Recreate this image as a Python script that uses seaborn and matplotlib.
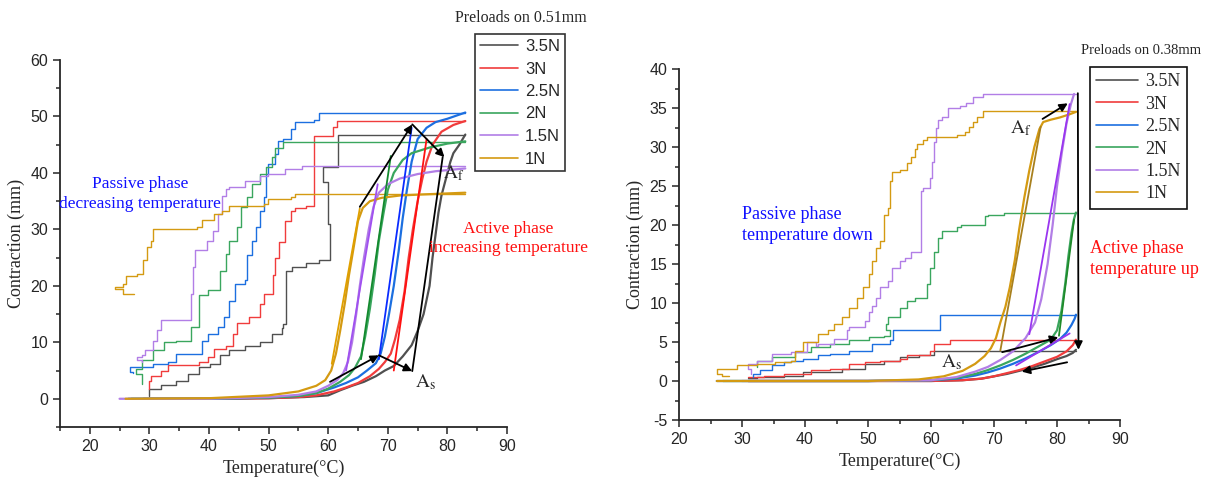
import matplotlib
matplotlib.use("Agg")
import matplotlib.pyplot as plt
import pandas as pd
import seaborn as sns
from matplotlib.lines import Line2D
from matplotlib.ticker import MultipleLocator

# ---- data: preloads on 0.51 mm wire (left) ----
labels = ["3.5N", "3N", "2.5N", "2N", "1.5N", "1N"]
colors = ["#505050", "#f03c3c", "#1c6fe0", "#3aa65e", "#b27ee6", "#d49a12"]

heat_T_051 = {
    "3.5N": [30, 40, 50, 56, 60, 62, 64, 66, 68, 69.5, 71, 72.5, 74, 75, 76, 77, 77.5, 78, 78.5, 79, 79.5, 80, 80.5, 81, 82, 83],
    "3N": [29, 40, 50, 55, 58, 61, 63, 65, 67, 68.5, 69.5, 70.5, 71.2, 72, 72.8, 73.5, 74.2, 75, 75.8, 76.5, 77.5, 79, 81, 83],
    "2.5N": [26.5, 40, 50, 55, 58, 61, 63, 65, 66.5, 68, 68.8, 69.5, 70.2, 71, 71.8, 72.5, 73.2, 74, 75, 76.5, 78, 80, 83],
    "2N": [27, 40, 50, 55, 58, 60, 62, 63.5, 64.5, 65.5, 66.2, 67, 67.8, 68.5, 69.3, 70, 71, 72.5, 74, 77, 80, 83],
    "1.5N": [25, 40, 50, 55, 58, 60, 61.5, 62.5, 63.3, 64, 64.7, 65.3, 66, 66.8, 67.6, 68.5, 70, 72, 75, 78, 83],
    "1N": [26, 40, 50, 55, 58, 59.5, 60.5, 61.3, 62, 62.8, 63.5, 64.3, 65, 65.8, 67, 69, 72, 76, 83],
}
heat_C_051 = {
    "3.5N": [0, 0, 0.1, 0.3, 0.6, 1.5, 2.3, 3.0, 4.0, 5.0, 5.8, 7.5, 9.5, 12, 15, 20, 25, 29, 33, 36, 38, 40, 42, 43.5, 45, 46.8],
    "3N": [0, 0, 0.1, 0.3, 0.6, 1.3, 2.0, 2.8, 4.0, 5.3, 6.5, 8.0, 10.5, 14, 19, 25, 30, 35, 39, 42, 45, 47.3, 48.5, 49.2],
    "2.5N": [0, 0, 0.2, 0.5, 1.0, 2.0, 2.8, 3.8, 5.0, 6.3, 8, 11, 15, 20, 26, 32, 37, 42, 46, 48, 49, 49.6, 50.7],
    "2N": [0, 0, 0.2, 0.5, 1.0, 1.8, 3.0, 4.2, 5.5, 7.5, 11, 16, 22, 28, 33, 37, 40, 42.3, 43.5, 44.5, 45.2, 45.6],
    "1.5N": [0, 0, 0.3, 0.7, 1.3, 2.3, 3.3, 4.5, 6.5, 10, 15, 20, 25, 30, 34, 36.5, 38, 39, 39.8, 40.3, 40.8],
    "1N": [0, 0.1, 0.6, 1.3, 2.3, 3.3, 5, 8, 12, 17, 22, 27, 31.5, 33.8, 35, 35.6, 36, 36.2, 36.5],
}
cool_T_051 = {
    "3.5N": [83, 61.7, 59.1, 60.0, 60.3, 58.5, 56.3, 54, 53, 52.4, 52.3, 50.5, 48.6, 46, 43.4, 41.8, 40.2, 38.3, 36.4, 34.5, 31.9, 30.0, 30.0],
    "3N": [83, 61.4, 60.8, 57.6, 56.3, 54.4, 53.7, 52.8, 51.8, 51.1, 50.8, 49.2, 48.6, 46.7, 44.7, 44.1, 42.8, 40.9, 39.9, 38.3, 33.2, 31.9, 30.3, 30.0],
    "2.5N": [83, 58.5, 57.6, 54.4, 53.7, 52.4, 51.5, 51.1, 49.9, 49.5, 49.2, 48.6, 47.9, 47.3, 46.3, 46.0, 44.4, 43.4, 42.5, 41.5, 39.9, 38.9, 38.0, 34.5, 33.2, 30.6, 26.7, 27.2],
    "2N": [83, 52.5, 51.1, 50.5, 49.5, 48.6, 47.3, 46.3, 45.4, 44.7, 43.4, 42.8, 41.8, 39.9, 38.3, 37.0, 34.5, 32.5, 30.6, 28.7, 27.7, 28.8],
    "1.5N": [83, 55.6, 52.8, 49.9, 48.6, 46.0, 43.4, 42.8, 42.2, 41.5, 40.6, 39.6, 37.7, 37.3, 37.0, 31.9, 31.2, 30.6, 29.3, 28.7, 28.0, 28.7],
    "1N": [83, 54.4, 53.7, 49.9, 49.2, 43.4, 42.2, 40.9, 38.9, 38.0, 37.7, 30.6, 30.3, 29.6, 29.0, 28.0, 26.1, 25.5, 24.2, 25.5, 27.4],
}
cool_C_051 = {
    "3.5N": [46.8, 41, 38.4, 31, 24.5, 24, 23.3, 22.7, 13.3, 12.5, 11.5, 10, 9.4, 8.6, 7.7, 6.2, 5.6, 4.4, 3.2, 2.4, 1.8, 0.9, 0.5],
    "3N": [49.2, 48.2, 46.6, 34.2, 33.8, 33.3, 31.5, 27.7, 25, 22, 18.6, 16.8, 14.5, 13.5, 11.5, 9.4, 8.8, 7.4, 6.5, 5.9, 5.0, 4.1, 3.2, 1.8],
    "2.5N": [50.7, 49.3, 49.0, 47.8, 46.0, 45.7, 43.4, 41.6, 39.8, 35.7, 33.3, 30.4, 28.0, 25.4, 21.0, 20.4, 17.4, 14.5, 12.7, 11.5, 10.3, 8.0, 8.0, 6.5, 6.2, 5.6, 4.7, 4.5],
    "2N": [45.5, 44.5, 42.8, 41, 39.8, 38, 35.7, 33.9, 30.4, 28, 25.7, 22.7, 19.2, 18.3, 12.7, 10.3, 10.0, 8.6, 6.8, 5.3, 4.4, 2.7],
    "1.5N": [41.2, 40.7, 39.8, 39.5, 38.6, 37.5, 37.2, 36.0, 32.7, 29.8, 28.0, 26.3, 23.3, 18.6, 13.9, 12.1, 10.3, 8.6, 7.7, 7.4, 6.8, 6.5],
    "1N": [36.3, 35.7, 35.4, 34.5, 34.2, 33.3, 32.7, 31.6, 30.4, 30.1, 30.1, 28, 26.8, 24.5, 22.1, 21.8, 20.4, 19.8, 19.5, 18.6, 18.6],
}
# straight (linear) segments drawn over the heating branches
fit_051 = [
    ("3N", [71.0, 76.5], [5.0, 46.0], "#ff1010"),
    ("2.5N", [68.5, 74.0], [7.0, 48.0], "#0a2cff"),
    ("2N", [65.5, 70.5], [7.0, 43.0], "#138a2e"),
    ("1.5N", [63.0, 68.3], [5.0, 38.0], "#a050f0"),
    ("1N", [60.6, 65.3], [6.2, 33.7], "#e0a000"),
]

# ---- data: preloads on 0.38 mm wire (right) ----
heat_T_038 = {
    "3.5N": [31, 40, 50, 60, 65, 68, 70, 72, 74, 76, 78, 80, 81.5, 82.5, 83],
    "3N": [31, 40, 50, 60, 65, 68, 70, 72, 74, 76, 78, 80, 81.5, 82.5, 83],
    "2.5N": [26, 40, 50, 60, 64, 67, 69, 71, 73, 75, 77, 79, 80.5, 81.5, 82.3, 82.8, 83],
    "2N": [27, 40, 50, 60, 64, 67, 69, 71, 73, 75, 77, 79, 80, 80.7, 81.3, 81.8, 82.3, 82.7, 83],
    "1.5N": [30, 40, 50, 60, 64, 67, 69, 71, 73, 75, 76.5, 77.5, 78.5, 79.3, 80, 80.8, 81.5, 82.2, 82.7],
    "1N": [26, 40, 50, 58, 62, 65, 67, 68.5, 69.5, 70.3, 71, 71.8, 72.5, 73.3, 74, 74.8, 75.6, 76.4, 77.2, 77.8, 79, 80.5, 82, 83],
}
heat_C_038 = {
    "3.5N": [0, 0, 0, 0, 0.1, 0.3, 0.6, 0.9, 1.3, 1.7, 2.2, 2.8, 3.2, 3.6, 4.0],
    "3N": [0, 0, 0, 0, 0.1, 0.3, 0.6, 1.0, 1.4, 1.9, 2.5, 3.1, 3.8, 4.6, 5.3],
    "2.5N": [0, 0, 0, 0.1, 0.3, 0.7, 1.1, 1.6, 2.2, 2.9, 3.7, 4.6, 5.4, 6.2, 7.2, 8.0, 8.5],
    "2N": [0, 0, 0, 0.1, 0.4, 0.9, 1.4, 2.0, 2.7, 3.5, 4.4, 5.3, 6.5, 9, 12.5, 16, 19, 20.8, 21.6],
    "1.5N": [0, 0, 0, 0.1, 0.5, 1.2, 1.8, 2.7, 3.8, 5.5, 7.5, 10.5, 15, 20, 25, 29.5, 33, 35.5, 36.8],
    "1N": [0, 0, 0, 0.2, 0.6, 1.3, 2.2, 3.2, 4.2, 5.5, 7.5, 9.5, 12, 15.5, 19.5, 23.5, 27, 30, 32.3, 33.2, 33.5, 33.8, 34.2, 34.5],
}
cool_T_038 = {
    "3.5N": [83, 60.5, 58.1, 55, 52.5, 49.5, 45.8, 39.6, 36.6, 32.3, 31],
    "3N": [83, 63, 60.5, 59.9, 56.2, 55, 51.9, 49.5, 47, 43.9, 40.9, 36.6, 33.5, 31],
    "2.5N": [83, 61.4, 54.0, 53.5, 50.7, 47, 43.9, 42.1, 39.6, 37.8, 36.6, 34.7, 32.9, 31.7, 31.7],
    "2N": [83, 71.6, 69.1, 68.5, 64.8, 64.2, 61.7, 61.1, 60.5, 59.9, 59.3, 57.4, 56.2, 55, 53.1, 52.8, 53.5, 52.5, 50.1, 47, 43.9, 40.9, 38.4, 34.7, 32.3, 32.3],
    "1.5N": [83, 68.2, 66.7, 65.5, 64.6, 62.7, 61.7, 61.1, 60.8, 60.5, 60.2, 59.9, 58.7, 58.4, 56.8, 55.9, 55, 53.8, 53.1, 51.9,
             51.3, 50.7, 50.1, 49.5, 47, 46.7, 44.6, 42.1, 41.8, 40.3, 37.8, 34.7, 32.3, 31, 31.4],
    "1N": [83, 68.2, 67.3, 66.7, 66.0, 65.4, 64.2, 59.3, 58.7, 57.8, 57.4, 56.8, 56.2, 55.0, 53.8, 53.5, 53.1, 52.5, 51.9, 51.3,
           50.7, 50.1, 49.2, 48.2, 47.0, 45.8, 44.6, 43.6, 42.1, 41.5, 39.6, 38.4, 37.8, 35.3, 32.3, 29.2, 26.1, 26.8, 28.0],
}
cool_C_038 = {
    "3.5N": [3.9, 3.3, 3.1, 2.6, 2.2, 1.6, 1.1, 0.7, 0.5, 0.4, 0.4],
    "3N": [5.2, 4.8, 3.9, 3.3, 2.8, 2.6, 2.4, 2.2, 1.6, 1.4, 0.9, 0.7, 0.5, 0.5],
    "2.5N": [8.5, 6.5, 5.2, 4.8, 3.9, 3.5, 3.3, 2.8, 2.6, 2.4, 2.0, 1.4, 0.9, 0.5, 0.5],
    "2N": [21.6, 21.3, 21.1, 20.0, 19.8, 19.2, 18.3, 16.6, 14.5, 12.4, 10.7, 10.3, 9.4, 8.2, 7.3, 6.5, 5.8, 5.6, 5.2, 4.8, 4.3, 3.7, 3.1, 2.6, 1.8, 1.8],
    "1.5N": [36.8, 36.4, 35.6, 35.2, 35.0, 33.8, 33.4, 32.4, 30.7, 28.1, 26, 24.7, 24.3, 16.6, 15.8, 15.4, 14.5, 12.8, 12.0, 10.7,
             9.6, 8.8, 7.7, 6.9, 6.5, 5.4, 4.8, 4.5, 5.0, 3.7, 3.5, 2.6, 2.2, 1.6, 0.9],
    "1N": [34.6, 33.8, 33.2, 32.6, 31.9, 31.5, 31.3, 30.9, 30.4, 29.8, 28.7, 27.9, 27.0, 26.8, 25.6, 22.2, 21.3, 17.9, 17.1, 15.4,
           13.7, 12.0, 10.7, 9.4, 8.2, 7.3, 6.5, 6.0, 5.0, 5.0, 3.9, 2.6, 2.4, 2.2, 2.0, 1.6, 0.9, 0.7, 0.7],
}
fit_038 = [
    ("2N", [80.3, 82.7], [5.8, 20.7], "#1f8a2a"),
    ("1.5N", [75.6, 82.0], [6.0, 35.5], "#9a35f0"),
    ("1.5N", [73.5, 82.0], [2.0, 6.1], "#9a35f0"),
    ("1N", [71.0, 77.4], [3.9, 32.6], "#a8801e"),
]

# black guide arrows (start, end, with head)
arrows_051 = [((60.3, 3.0), (68.5, 7.7), True), ((68.5, 7.7), (74.1, 4.9), True),
              ((74.1, 4.9), (79.2, 42.8), False), ((65.3, 34.0), (74.1, 48.6), True),
              ((74.1, 48.6), (79.5, 42.8), True)]
arrows_038 = [((77.7, 33.6), (81.7, 35.6), True), ((83.3, 36.9), (83.4, 4.0), True),
              ((71.3, 3.7), (80.2, 5.6), True), ((81.6, 2.4), (74.4, 1.2), True)]

SERIF = "Liberation Serif"

sns.set_style("ticks")
plt.rcParams["font.family"] = ["Liberation Sans", "DejaVu Sans"]
plt.rcParams["mathtext.fontset"] = "stix"
plt.rcParams["axes.unicode_minus"] = False

fig = plt.figure(figsize=(12.11, 4.86), dpi=100)
ax1 = fig.add_axes([0.0495, 0.1214, 0.3692, 0.7551])
ax2 = fig.add_axes([0.5607, 0.1358, 0.3642, 0.7222])


def draw_panel(ax, heat_T, heat_C, cool_T, cool_C, fits):
    for lab, col in zip(labels, colors):
        cool = pd.DataFrame({"T": cool_T[lab], "C": cool_C[lab]})
        sns.lineplot(data=cool, x="T", y="C", ax=ax, color=col, lw=1.0,
                     sort=False, estimator=None, drawstyle="steps-post", legend=False)
    for lab, col in zip(labels, colors):
        heat = pd.DataFrame({"T": heat_T[lab], "C": heat_C[lab]})
        sns.lineplot(data=heat, x="T", y="C", ax=ax, color=col, lw=1.6,
                     sort=False, estimator=None, legend=False)
    for lab, xs, ys, col in fits:
        sns.lineplot(x=xs, y=ys, ax=ax, color=col, lw=1.3, sort=False,
                     estimator=None, legend=False)


def draw_arrows(ax, arrows):
    for (p0, p1, head) in arrows:
        ax.annotate("", xy=p1, xytext=p0,
                    arrowprops=dict(arrowstyle="-|>" if head else "-", color="black",
                                    lw=1.3, mutation_scale=12, shrinkA=0, shrinkB=0))


draw_panel(ax1, heat_T_051, heat_C_051, cool_T_051, cool_C_051, fit_051)
draw_panel(ax2, heat_T_038, heat_C_038, cool_T_038, cool_C_038, fit_038)
draw_arrows(ax1, arrows_051)
draw_arrows(ax2, arrows_038)

for ax, ylim, ymaj in [(ax1, (-5, 60), 10), (ax2, (-5, 40), 5)]:
    ax.set_ylim(*ylim)
    ax.yaxis.set_major_locator(MultipleLocator(ymaj))
    ax.yaxis.set_minor_locator(MultipleLocator(ymaj / 2))
    ax.xaxis.set_major_locator(MultipleLocator(10))
    ax.xaxis.set_minor_locator(MultipleLocator(5))
    ax.tick_params(which="major", direction="out", length=5, width=1.1, labelsize=11.5)
    ax.tick_params(which="minor", direction="out", length=3, width=1.1)
    for s in ["top", "right"]:
        ax.spines[s].set_visible(False)
    for s in ["left", "bottom"]:
        ax.spines[s].set_linewidth(1.3)
    ax.set_xlabel("Temperature(°C)", family=SERIF, fontsize=13)
    ax.set_ylabel("Contraction (mm)", family=SERIF, fontsize=13)

ax1.set_xlim(15, 90)
ax2.set_xlim(20, 90)
ax1.set_yticks([0, 10, 20, 30, 40, 50, 60])
ax2.set_yticks([-5, 0, 5, 10, 15, 20, 25, 30, 35, 40])

# phase texts
ax1.text(28.5, 36.3, "Passive phase\ndecreasing temperature", color="#1010ff", family=SERIF,
         fontsize=12.5, ha="center", va="center", linespacing=1.3)
ax1.text(90.2, 28.4, "Active phase\nincreasing temperature", color="#ff1010", family=SERIF,
         fontsize=12.5, ha="center", va="center", linespacing=1.3, clip_on=False)
ax1.text(81.0, 40.0, r"$\mathrm{A_f}$", fontsize=14, ha="center", va="center")
ax1.text(76.3, 3.0, r"$\mathrm{A_s}$", fontsize=14, ha="center", va="center")

ax2.text(30.0, 20.0, "Passive phase\ntemperature down", color="#1010ff", family=SERIF,
         fontsize=13, ha="left", va="center", linespacing=1.3)
ax2.text(85.2, 15.6, "Active phase\ntemperature up", color="#ff1010", family=SERIF,
         fontsize=13, ha="left", va="center", linespacing=1.3, clip_on=False)
ax2.text(74.3, 32.4, r"$\mathrm{A_f}$", fontsize=14, ha="center", va="center")
ax2.text(63.2, 2.4, r"$\mathrm{A_s}$", fontsize=14, ha="center", va="center")

# legends
handles = [Line2D([], [], color=c, lw=1.2) for c in colors]
leg1 = ax1.legend(handles, labels, loc="upper left", bbox_to_anchor=(475 / 1211, 1 - 34 / 486),
                  bbox_transform=fig.transFigure, frameon=True, fancybox=False, framealpha=1,
                  edgecolor="#333333", fontsize=12, handlelength=2.3, handletextpad=0.4,
                  labelspacing=0.45, borderpad=0.3, borderaxespad=0)
leg1.get_frame().set_linewidth(1.2)
leg2 = ax2.legend(handles, labels, loc="upper left", bbox_to_anchor=(1090 / 1211, 1 - 67 / 486),
                  bbox_transform=fig.transFigure, frameon=True, fancybox=False, framealpha=1,
                  edgecolor="#111111", handlelength=2.3, handletextpad=0.4,
                  labelspacing=0.3, borderpad=0.35, borderaxespad=0, prop={"family": SERIF, "size": 13})
leg2.get_frame().set_linewidth(1.2)

fig.text(521 / 1211, 1 - 18 / 486, "Preloads on 0.51mm", family=SERIF, fontsize=11.5,
         ha="center", va="center")
fig.text(1141 / 1211, 1 - 50 / 486, "Preloads on 0.38mm", family=SERIF, fontsize=10.5,
         ha="center", va="center")

fig.savefig("out.png", dpi=100)
